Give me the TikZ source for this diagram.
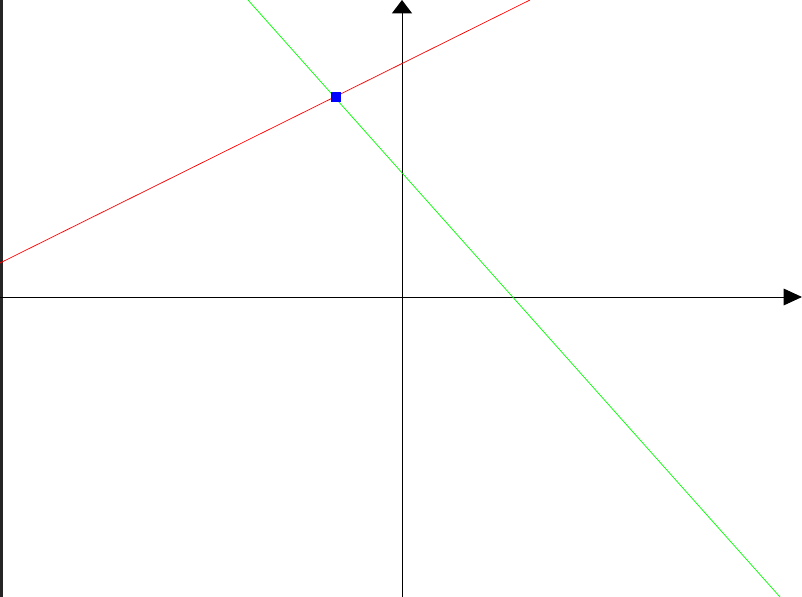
\documentclass[tikz,border=0pt]{standalone}
\usetikzlibrary{arrows.meta}

\begin{document}
\begin{tikzpicture}[x=0.03cm, y=-0.03cm, line width=0.8pt,
  axis/.style={draw=black},
  graph/.style={line width=0.6pt},
  point/.style={fill=blue, minimum size=0.3cm, inner sep=0pt, draw=none}]

\useasboundingbox (0,0) rectangle (802,597);

% Dark edge on the left
\fill[black!85] (0,0) rectangle (3,597);

% Axes
\coordinate (xl) at (0,297);
\coordinate (xr) at (802,297);
\coordinate (yb) at (402,597);
\coordinate (yt) at (402,0);
\draw[axis, -{Triangle[length=0.55cm, width=0.5cm]}] (xl) -- (xr);
\draw[axis, -{Triangle[length=0.4cm, width=0.6cm]}] (yb) -- (yt);

% Lines
\coordinate (r1) at (0,263);
\coordinate (r2) at (530,0);
\coordinate (g1) at (248,0);
\coordinate (g2) at (780,597);
\draw[graph, red] (r1) -- (r2);
\draw[graph, green] (g1) -- (g2);

% Intersection point
\node[point] (p) at (336,97) {};

\end{tikzpicture}
\end{document}
